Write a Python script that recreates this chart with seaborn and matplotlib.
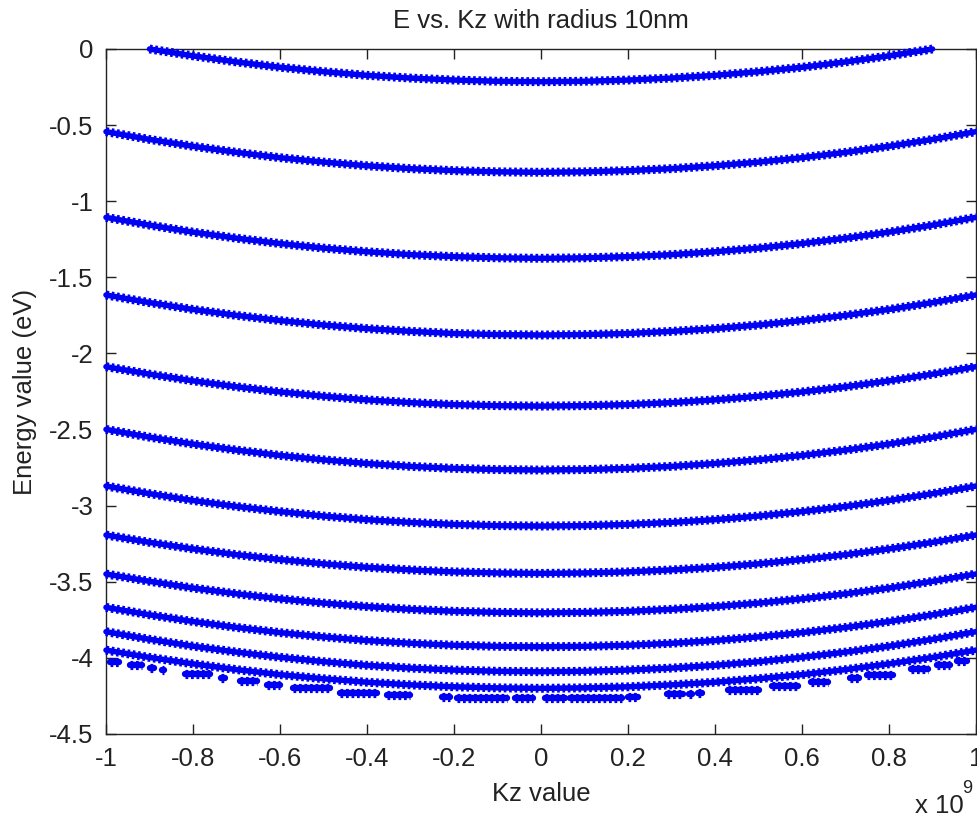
import numpy as np
import pandas as pd
import matplotlib
matplotlib.use("Agg")
import matplotlib.pyplot as plt
import seaborn as sns

# ---------------- data (Kz in units of 1e9 1/m, energies in eV) ----------------
kz = [-1.0, -0.9, -0.8, -0.7, -0.6, -0.5, -0.4, -0.3, -0.2, -0.1, 0.0,
      0.1, 0.2, 0.3, 0.4, 0.5, 0.6, 0.7, 0.8, 0.9, 1.0]

nan = np.nan
band_01 = [nan, 0.000, -0.045, -0.085, -0.120, -0.149, -0.173, -0.191, -0.204, -0.212, -0.215,
           -0.212, -0.204, -0.191, -0.173, -0.149, -0.120, -0.085, -0.045, 0.000, nan]
band_02 = [-0.543, -0.594, -0.639, -0.679, -0.714, -0.743, -0.767, -0.786, -0.799, -0.807, -0.810,
           -0.807, -0.799, -0.786, -0.767, -0.743, -0.714, -0.679, -0.639, -0.594, -0.543]
band_03 = [-1.106, -1.157, -1.203, -1.243, -1.278, -1.308, -1.332, -1.351, -1.364, -1.372, -1.375,
           -1.372, -1.364, -1.351, -1.332, -1.308, -1.278, -1.243, -1.203, -1.157, -1.106]
band_04 = [-1.616, -1.666, -1.711, -1.750, -1.784, -1.813, -1.837, -1.855, -1.869, -1.876, -1.879,
           -1.876, -1.869, -1.855, -1.837, -1.813, -1.784, -1.750, -1.711, -1.666, -1.616]
band_05 = [-2.087, -2.136, -2.180, -2.219, -2.253, -2.281, -2.305, -2.323, -2.336, -2.343, -2.346,
           -2.343, -2.336, -2.323, -2.305, -2.281, -2.253, -2.219, -2.180, -2.136, -2.087]
band_06 = [-2.499, -2.550, -2.595, -2.635, -2.670, -2.699, -2.723, -2.742, -2.755, -2.763, -2.766,
           -2.763, -2.755, -2.742, -2.723, -2.699, -2.670, -2.635, -2.595, -2.550, -2.499]
band_07 = [-2.871, -2.921, -2.966, -3.005, -3.039, -3.068, -3.092, -3.110, -3.123, -3.131, -3.134,
           -3.131, -3.123, -3.110, -3.092, -3.068, -3.039, -3.005, -2.966, -2.921, -2.871]
band_08 = [-3.193, -3.241, -3.284, -3.322, -3.354, -3.382, -3.405, -3.422, -3.435, -3.442, -3.445,
           -3.442, -3.435, -3.422, -3.405, -3.382, -3.354, -3.322, -3.284, -3.241, -3.193]
band_09 = [-3.449, -3.497, -3.541, -3.579, -3.612, -3.640, -3.663, -3.681, -3.694, -3.701, -3.704,
           -3.701, -3.694, -3.681, -3.663, -3.640, -3.612, -3.579, -3.541, -3.497, -3.449]
band_10 = [-3.668, -3.717, -3.761, -3.800, -3.834, -3.862, -3.886, -3.904, -3.917, -3.924, -3.927,
           -3.924, -3.917, -3.904, -3.886, -3.862, -3.834, -3.800, -3.761, -3.717, -3.668]
band_11 = [-3.828, -3.878, -3.923, -3.962, -3.996, -4.025, -4.049, -4.067, -4.080, -4.088, -4.091,
           -4.088, -4.080, -4.067, -4.049, -4.025, -3.996, -3.962, -3.923, -3.878, -3.828]
band_12 = [-3.949, -3.997, -4.039, -4.077, -4.110, -4.137, -4.160, -4.177, -4.190, -4.197, -4.200,
           -4.197, -4.190, -4.177, -4.160, -4.137, -4.110, -4.077, -4.039, -3.997, -3.949]

# lowest (scattered) band: groups of points -> start k, end k, energy
low_k_start = [-0.990, -0.945, -0.900, -0.872, -0.818, -0.735, -0.692, -0.630, -0.570, -0.462,
               -0.354, -0.228, -0.193, -0.060, 0.009, 0.067, 0.200, 0.290, 0.340, 0.362,
               0.430, 0.530, 0.620, 0.710, 0.750, 0.850, 0.910, 0.956]
low_k_end = [-0.970, -0.917, -0.890, -0.866, -0.761, -0.727, -0.653, -0.600, -0.485, -0.377,
             -0.301, -0.209, -0.078, -0.018, 0.055, 0.186, 0.223, 0.326, 0.346, 0.370,
             0.500, 0.590, 0.660, 0.730, 0.810, 0.890, 0.940, 0.980]
low_E = [-4.025, -4.050, -4.067, -4.080, -4.108, -4.133, -4.150, -4.180, -4.200, -4.230,
         -4.245, -4.255, -4.262, -4.266, -4.266, -4.262, -4.255, -4.240, -4.235, -4.230,
         -4.210, -4.185, -4.160, -4.130, -4.110, -4.070, -4.050, -4.022]

xtick_vals = [-1.0, -0.8, -0.6, -0.4, -0.2, 0.0, 0.2, 0.4, 0.6, 0.8, 1.0]
xtick_text = ["-1", "-0.8", "-0.6", "-0.4", "-0.2", "0", "0.2", "0.4", "0.6", "0.8", "1"]
ytick_vals = [0.0, -0.5, -1.0, -1.5, -2.0, -2.5, -3.0, -3.5, -4.0, -4.5]
ytick_text = ["0", "-0.5", "-1", "-1.5", "-2", "-2.5", "-3", "-3.5", "-4", "-4.5"]

# ---------------- build long tables ----------------
bands = [band_01, band_02, band_03, band_04, band_05, band_06,
         band_07, band_08, band_09, band_10, band_11, band_12]
rows = []
for i, b in enumerate(bands):
    for k, e in zip(kz, b):
        if not np.isnan(e):
            rows.append((k, e, i))
df = pd.DataFrame(rows, columns=["Kz", "E", "unit"])

low_rows = []
for j, (ks, ke, e) in enumerate(zip(low_k_start, low_k_end, low_E)):
    low_rows.append((ks, e, j))
    low_rows.append((ke, e, j))
df_low = pd.DataFrame(low_rows, columns=["Kz", "E", "unit"])

# ---------------- style ----------------
sns.set_theme(style="white")
plt.rcParams["font.family"] = ["Liberation Sans", "DejaVu Sans"]
FS = 18.5
TXT = "#222222"

fig = plt.figure(figsize=(9.77, 8.18), dpi=100)
ax = fig.add_axes([106 / 977, 1 - 734 / 818, 870 / 977, 685 / 818])

BLUE = "#0000f2"
# solid core of the marker bands
sns.lineplot(data=df, x="Kz", y="E", units="unit", estimator=None, sort=False,
             color=BLUE, lw=4.0, legend=False, ax=ax,
             solid_capstyle="round", clip_on=False, zorder=3)
# serrated '*'-marker texture around the core
sns.lineplot(data=df, x="Kz", y="E", units="unit", estimator=None, sort=False,
             color=BLUE, lw=6.4, legend=False, ax=ax, dashes=False,
             linestyle=(0, (0.3, 0.3)), dash_capstyle="butt", clip_on=False, zorder=3)
# lowest scattered band
sns.lineplot(data=df_low, x="Kz", y="E", units="unit", estimator=None, sort=False,
             color=BLUE, lw=4.6, legend=False, ax=ax,
             solid_capstyle="round", clip_on=False, zorder=3)
sns.lineplot(data=df_low, x="Kz", y="E", units="unit", estimator=None, sort=False,
             color=BLUE, lw=6.6, legend=False, ax=ax, dashes=False,
             linestyle=(0, (0.3, 0.3)), dash_capstyle="butt", clip_on=False, zorder=3)

ax.set_xlim(-1, 1)
ax.set_ylim(-4.5, 0)
ax.set_xticks(xtick_vals)
ax.set_xticklabels(xtick_text)
ax.set_yticks(ytick_vals)
ax.set_yticklabels(ytick_text)

for s in ax.spines.values():
    s.set_color(TXT)
    s.set_linewidth(1.0)
    s.set_visible(True)
    s.set_zorder(2)
ax.tick_params(direction="in", length=7, width=1.0, color=TXT,
               top=True, right=True, bottom=True, left=True,
               labelsize=FS, labelcolor=TXT, pad=9)
ax.grid(False)
ax.set_facecolor("white")

ax.set_title("E vs. Kz with radius 10nm", fontsize=FS, color=TXT, pad=15)
ax.set_xlabel("Kz value", fontsize=FS, color=TXT, labelpad=8)
ax.set_ylabel("Energy value (eV)", fontsize=FS, color=TXT, labelpad=9)

fig.text(915 / 977, 1 - 813 / 818, "x 10", fontsize=FS, color=TXT,
         ha="left", va="baseline")
fig.text(962 / 977, 1 - 793 / 818, "9", fontsize=13, color=TXT,
         ha="left", va="baseline")

fig.savefig("out.png", dpi=100, facecolor="white")
